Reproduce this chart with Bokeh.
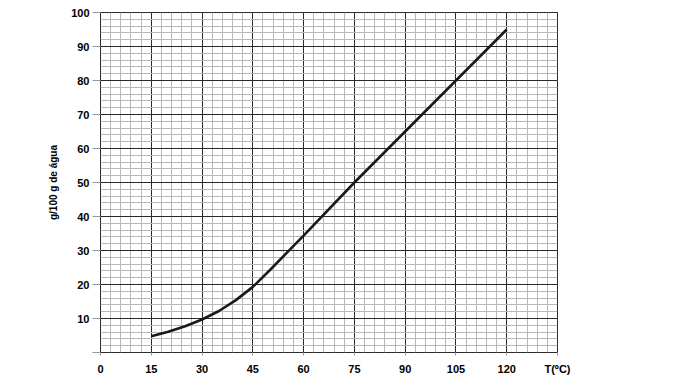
from bokeh.plotting import figure
from bokeh.models import FixedTicker
from bokeh.embed import file_html
from bokeh.resources import INLINE

# data
temperature = [15, 20, 25, 30, 35, 40, 45, 50, 55, 60, 75, 90, 105, 120]
solubility = [4.8, 6.1, 7.7, 9.7, 12.2, 15.4, 19.3, 24.2, 29.3, 34.4, 50, 65, 80, 95]

x_ticks = list(range(0, 136, 15))
x_minor = list(range(0, 136, 3))
y_ticks = list(range(0, 101, 10))
y_minor = list(range(0, 101, 2))
x_label_overrides = {135: "T(ºC)"}
y_label_overrides = {0: ""}

FONT = "Liberation Sans"

p = figure(width=693, height=377, output_backend="svg", toolbar_location=None,
           x_range=(0, 135), y_range=(0, 100),
           min_border_left=100, min_border_right=136, min_border_top=12, min_border_bottom=25)
p.background_fill_color = "white"
p.border_fill_color = "white"
p.outline_line_color = "#2a2a2a"
p.outline_line_width = 1

p.xaxis.ticker = FixedTicker(ticks=x_ticks, minor_ticks=x_minor)
p.yaxis.ticker = FixedTicker(ticks=y_ticks, minor_ticks=y_minor)
p.xaxis.major_label_overrides = x_label_overrides
p.yaxis.major_label_overrides = y_label_overrides

for g in (p.xgrid, p.ygrid):
    g.grid_line_color = "#2a2a2a"
    g.grid_line_width = 1
    g.minor_grid_line_color = "#b8b8b8"
    g.minor_grid_line_width = 1

for ax in (p.xaxis, p.yaxis):
    ax.axis_line_color = None
    ax.minor_tick_line_color = None
    ax.major_tick_in = 0
    ax.major_tick_line_color = "#999999"
    ax.major_label_text_font = FONT
    ax.major_label_text_font_style = "bold"
    ax.major_label_text_font_size = "11px"
    ax.major_label_text_color = "black"

p.yaxis.major_tick_out = 8
p.yaxis.major_label_standoff = 3
p.xaxis.major_tick_out = 3
p.xaxis.major_label_standoff = 6

p.yaxis.axis_label = "g/100 g de água"
p.yaxis.axis_label_text_font = FONT
p.yaxis.axis_label_text_font_style = "bold"
p.yaxis.axis_label_text_font_size = "10px"
p.yaxis.axis_label_text_color = "black"
p.yaxis.axis_label_standoff = 9

p.line(temperature, solubility, line_color="#1a1a1a", line_width=2.6)

open("out.html", "w").write(file_html(p, INLINE))
